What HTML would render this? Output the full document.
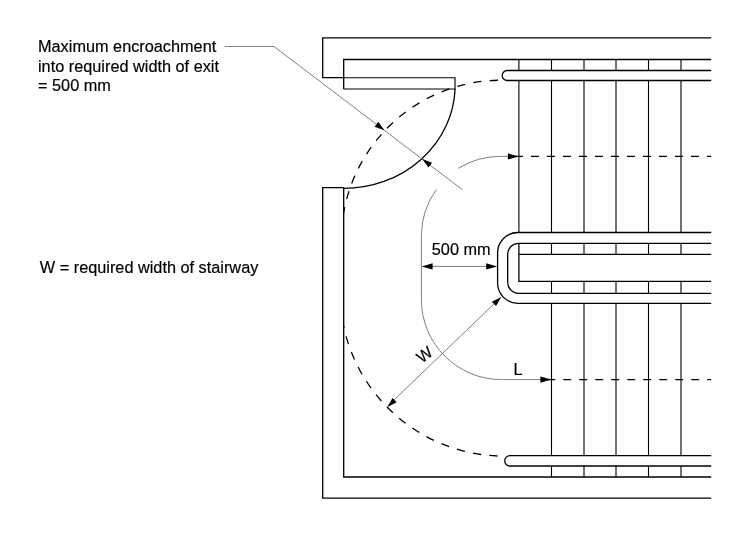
<!DOCTYPE html>
<html>
<head>
<meta charset="utf-8">
<style>
html,body{margin:0;padding:0;background:#fff;}
body{width:750px;height:538px;overflow:hidden;}
svg{display:block;will-change:transform;}
text{font-family:"Liberation Sans",sans-serif;font-size:16.3px;fill:#000;stroke:#000;stroke-width:0.18px;}
</style>
</head>
<body>
<svg width="750" height="538" viewBox="0 0 750 538">
<defs>
<clipPath id="cl"><rect x="343.7" y="0" width="420" height="538"/></clipPath>
</defs>
<rect width="750" height="538" fill="#fff"/>
<!-- text -->
<text x="38" y="52">Maximum encroachment</text>
<text x="38" y="72.3">into required width of exit</text>
<text x="38" y="91.1">= 500 mm</text>
<text x="39.8" y="273">W = required width of stairway</text>
<text x="431.8" y="255">500 mm</text>
<text x="513.5" y="375.2">L</text>
<text transform="translate(421.8 363.7) rotate(-37)">W</text>

<g fill="none" stroke="#000" stroke-width="1.3">
<!-- walls -->
<path d="M711.2 37.8H322.7V77.55H343.7M343.7 88.9V59.5H711.2"/>
<path d="M343.7 77.75H455V89H343.7" stroke-width="1.15"/>
<path d="M343.7 187.7H322.7V498.1H711.2M343.7 187.7V477H711.2"/>
<!-- handrails -->
<path d="M711.2 70.5H507.2A5 5 0 0 0 507.2 80.5H711.2"/>
<path d="M711.2 455.6H509.9A5.2 5.2 0 0 0 509.9 466H711.2"/>
<path d="M711.2 232.5H517.8A20.2 20.2 0 0 0 497.6 252.7V283.1A20.2 20.2 0 0 0 517.8 303.3H711.2"/>
<path d="M711.2 243.3H518.5A10.8 10.8 0 0 0 507.7 254.1V282.5A10.8 10.8 0 0 0 518.5 293.3H711.2"/>
<path d="M711.2 254.4H518.9V281.4H711.2M518.9 243.3V254.4"/>
<!-- door arc -->
<path d="M455.1 88.8A111.49 103.33 0 0 1 343.7 188.4"/>
</g>
<!-- treads -->
<g fill="none" stroke="#000" stroke-width="1.1">
<path d="M518.9 59.5V70.5M518.9 80.5V232.5"/>
<path d="M551.5 59.5V70.5M551.5 80.5V232.5M551.5 243.3V254.4M551.5 281.4V293.3M551.5 303.3V455.6M551.5 466V477"/>
<path d="M584 59.5V70.5M584 80.5V232.5M584 243.3V254.4M584 281.4V293.3M584 303.3V455.6M584 466V477"/>
<path d="M616 59.5V70.5M616 80.5V232.5M616 243.3V254.4M616 281.4V293.3M616 303.3V455.6M616 466V477"/>
<path d="M648.5 59.5V70.5M648.5 80.5V232.5M648.5 243.3V254.4M648.5 281.4V293.3M648.5 303.3V455.6M648.5 466V477"/>
<path d="M681 59.5V70.5M681 80.5V232.5M681 243.3V254.4M681 281.4V293.3M681 303.3V455.6M681 466V477"/>
</g>
<!-- dashed -->
<g fill="none" stroke="#000" stroke-width="1.3" stroke-dasharray="8 8">
<path d="M514.9 156.4H711.2"/>
<path d="M547.2 379.6H711.2"/>
<g clip-path="url(#cl)" stroke-dasharray="8.25 8.25">
<path d="M497.9 80.25A160.4 160.4 0 0 0 341.2 241"/>
<path d="M497.5 456A164.1 164.1 0 0 1 340 292.3"/>
</g>
</g>
<!-- thin lines -->
<g fill="none" stroke="#808080" stroke-width="1">
<path d="M224.8 46.5H274L462.6 189.8"/>
<path d="M508 156.4H500.4A79 79 0 0 0 458.2 168.4"/>
<path d="M436.4 189.5A79 79 0 0 0 421.4 235.4V299.6A80 80 0 0 0 501.4 379.6H541"/>
<path d="M432 266.4H487"/>
<path d="M501.2 297L387.1 406.7"/>
</g>
<!-- arrowheads -->
<g fill="#000" stroke="none">
<path d="M518.9 156.4L507.9 153.35L507.9 159.45Z"/>
<path d="M551.5 379.6L540.4 376.55L540.4 382.65Z"/>
<path d="M421.6 266.4L432.6 263.35L432.6 269.45Z"/>
<path d="M497.2 266.4L486.2 263.35L486.2 269.45Z"/>
<path d="M0 0L-10 -3L-10 3Z" transform="translate(384.4 130.3) rotate(37.27)"/>
<path d="M0 0L-10 -3L-10 3Z" transform="translate(422.3 159.1) rotate(217.27)"/>
<path d="M0 0L-10 -3L-10 3Z" transform="translate(501.2 297) rotate(-43.87)"/>
<path d="M0 0L-10 -3L-10 3Z" transform="translate(387.4 407.1) rotate(136.13)"/>
</g>
</svg>
</body>
</html>
